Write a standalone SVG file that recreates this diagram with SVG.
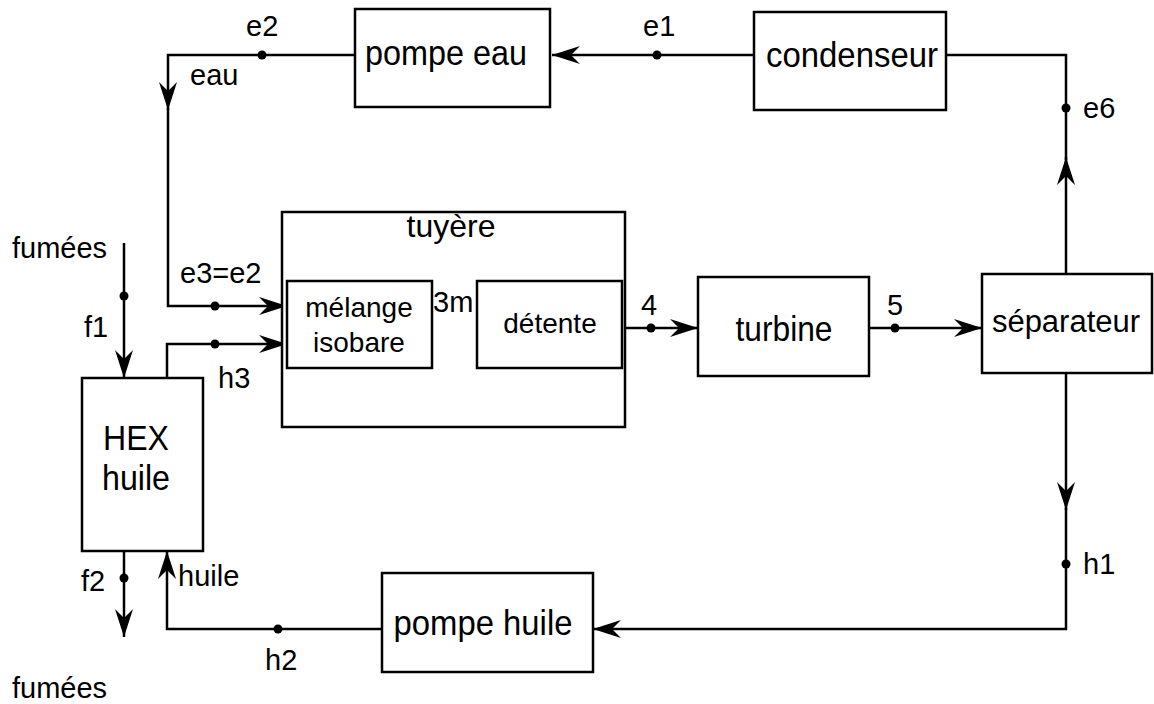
<svg xmlns="http://www.w3.org/2000/svg" width="1154" height="704" viewBox="0 0 1154 704">
<defs>
<marker id="arr" markerUnits="userSpaceOnUse" markerWidth="30" markerHeight="20" viewBox="-28 -10 30 20" refX="0" refY="0" orient="auto">
<path d="M0,0 L-28,-9 L-19,0 L-28,9 Z" fill="#000"/>
</marker>
</defs>
<style>
.box{fill:#fff;stroke:#000;stroke-width:2.5}
.ln{fill:none;stroke:#000;stroke-width:2.5}
.ar{marker-end:url(#arr)}
.dot{fill:#000}
.t{font-family:"Liberation Sans",Arial,sans-serif;font-size:35px;fill:#000;text-anchor:middle}
.s{font-size:28px}
.l{font-family:"Liberation Sans",Arial,sans-serif;font-size:29px;fill:#000}
</style>
<rect width="1154" height="704" fill="#fff"/>
<g id="connectors">
<path class="ln ar" d="M753,55 H552"/>
<path class="ln ar" d="M355,55 H168 V110"/>
<path class="ln ar" d="M168,108 V306 H287"/>
<path class="ln ar" d="M167,378 V344 H287"/>
<path class="ln ar" d="M124,243 V378"/>
<path class="ln ar" d="M124,551 V637"/>
<path class="ln ar" d="M432,326 H477"/>
<path class="ln ar" d="M622,328 H698"/>
<path class="ln ar" d="M869,328 H982"/>
<path class="ln ar" d="M1066,274 V157"/>
<path class="ln" d="M1066,160 V55 H945"/>
<path class="ln ar" d="M1066,373 V510"/>
<path class="ln ar" d="M1066,508 V629 H593"/>
<path class="ln ar" d="M382,629 H167 V551"/>
<circle class="dot" cx="657" cy="55" r="4.5"/>
<circle class="dot" cx="262" cy="55" r="4.5"/>
<circle class="dot" cx="215" cy="306" r="4.5"/>
<circle class="dot" cx="215" cy="344" r="4.5"/>
<circle class="dot" cx="124" cy="296" r="4.5"/>
<circle class="dot" cx="124" cy="578" r="4.5"/>
<circle class="dot" cx="651" cy="328" r="4.5"/>
<circle class="dot" cx="895" cy="328" r="4.5"/>
<circle class="dot" cx="1066" cy="108" r="4.5"/>
<circle class="dot" cx="1066" cy="564" r="4.5"/>
<circle class="dot" cx="278" cy="629" r="4.5"/>
</g>
<g id="pompe-eau"><rect class="box" x="355" y="9" width="195" height="98"/><text class="t" x="446" y="65" textLength="162" lengthAdjust="spacingAndGlyphs">pompe eau</text></g>
<g id="condenseur"><rect class="box" x="754" y="12" width="192" height="98"/><text class="t" x="852" y="67" textLength="172" lengthAdjust="spacingAndGlyphs">condenseur</text></g>
<g id="tuyere"><rect class="box" x="282" y="212" width="343" height="215"/><text class="t s" x="451" y="237" style="font-size:32px">tuyère</text></g>
<g id="melange"><rect class="box" x="287" y="281" width="145" height="87"/><text class="t s" x="359" y="317">mélange</text><text class="t s" x="359" y="352">isobare</text></g>
<g id="detente"><rect class="box" x="477" y="281" width="145" height="87"/><text class="t s" x="550" y="333">détente</text></g>
<g id="turbine"><rect class="box" x="698" y="277" width="171" height="99"/><text class="t" x="784" y="341" textLength="97" lengthAdjust="spacingAndGlyphs">turbine</text></g>
<g id="separateur"><rect class="box" x="982" y="274" width="170" height="99"/><text class="t" x="1066" y="332" style="font-size:31px">séparateur</text></g>
<g id="hex"><rect class="box" x="82" y="378" width="121" height="173"/><text class="t" x="136" y="450" textLength="66" lengthAdjust="spacingAndGlyphs">HEX</text><text class="t" x="136" y="490" textLength="68" lengthAdjust="spacingAndGlyphs">huile</text></g>
<g id="pompe-huile"><rect class="box" x="382" y="573" width="211" height="99"/><text class="t" x="483" y="635" textLength="179" lengthAdjust="spacingAndGlyphs">pompe huile</text></g>
<g id="labels">
<text class="l" x="246" y="36">e2</text>
<text class="l" x="643" y="36">e1</text>
<text class="l" x="190" y="85">eau</text>
<text class="l" x="1083" y="118">e6</text>
<text class="l" x="12" y="258">fumées</text>
<text class="l" x="180" y="283">e3=e2</text>
<text class="l" x="433" y="312">3m</text>
<text class="l" x="641" y="315">4</text>
<text class="l" x="887" y="315">5</text>
<text class="l" x="84" y="337">f1</text>
<text class="l" x="218" y="388">h3</text>
<text class="l" x="1083" y="574">h1</text>
<text class="l" x="178" y="586">huile</text>
<text class="l" x="81" y="591">f2</text>
<text class="l" x="265" y="670">h2</text>
<text class="l" x="12" y="698">fumées</text>
</g>
</svg>
